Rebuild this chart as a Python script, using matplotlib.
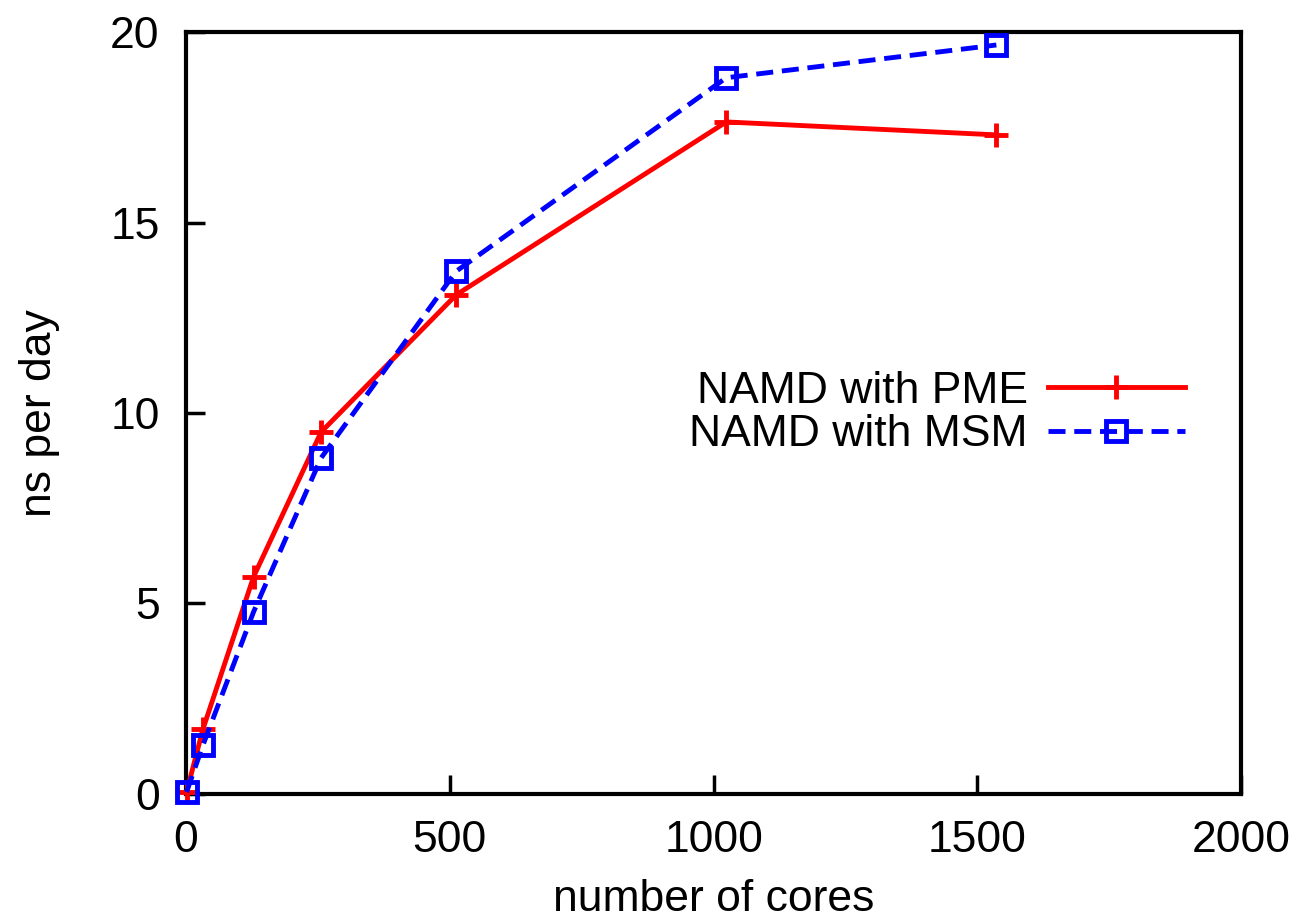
import matplotlib
matplotlib.use("Agg")
import matplotlib.pyplot as plt

# data
cores = [1, 32, 128, 256, 512, 1024, 1536]
pme = [0.05, 1.7, 5.7, 9.5, 13.1, 17.64, 17.3]
msm = [0.05, 1.28, 4.78, 8.82, 13.72, 18.8, 19.66]
xticks = [0, 500, 1000, 1500, 2000]
yticks = [0, 5, 10, 15, 20]

plt.rcParams['font.family'] = ['Liberation Sans', 'DejaVu Sans']
fs = 32

fig = plt.figure(figsize=(13.01, 9.23), dpi=100)
ax = fig.add_axes([0.143, 0.1398, 0.811, 0.8255])

ax.plot(cores, pme, color='#ff0000', lw=3.5, marker='+', ms=17, mew=3.5,
        label='NAMD with PME', clip_on=False, zorder=3)
ax.plot(cores, msm, color='#0000ff', lw=3.5, ls=(0, (3.5, 1.8)), marker='s',
        ms=14.5, mew=3.5, mfc='none', mec='#0000ff', label='NAMD with MSM',
        clip_on=False, zorder=4)

ax.set_xlim(0, 2000)
ax.set_ylim(0, 20)
ax.set_xticks(xticks)
ax.set_yticks(yticks)
ax.tick_params(direction='in', length=14, width=2.5, labelsize=fs, pad=19)
for s in ax.spines.values():
    s.set_linewidth(3)

ax.set_xlabel('number of cores', fontsize=fs, labelpad=13)
ax.set_ylabel('ns per day', fontsize=fs, labelpad=36)

leg = ax.legend(loc='center right', bbox_to_anchor=(0.985, 0.50),
                frameon=False, markerfirst=False, fontsize=fs,
                handlelength=3.1, labelspacing=0.05, handletextpad=0.45)
for t in leg.get_texts():
    t.set_ha('right')

fig.savefig('out.png', dpi=100)
